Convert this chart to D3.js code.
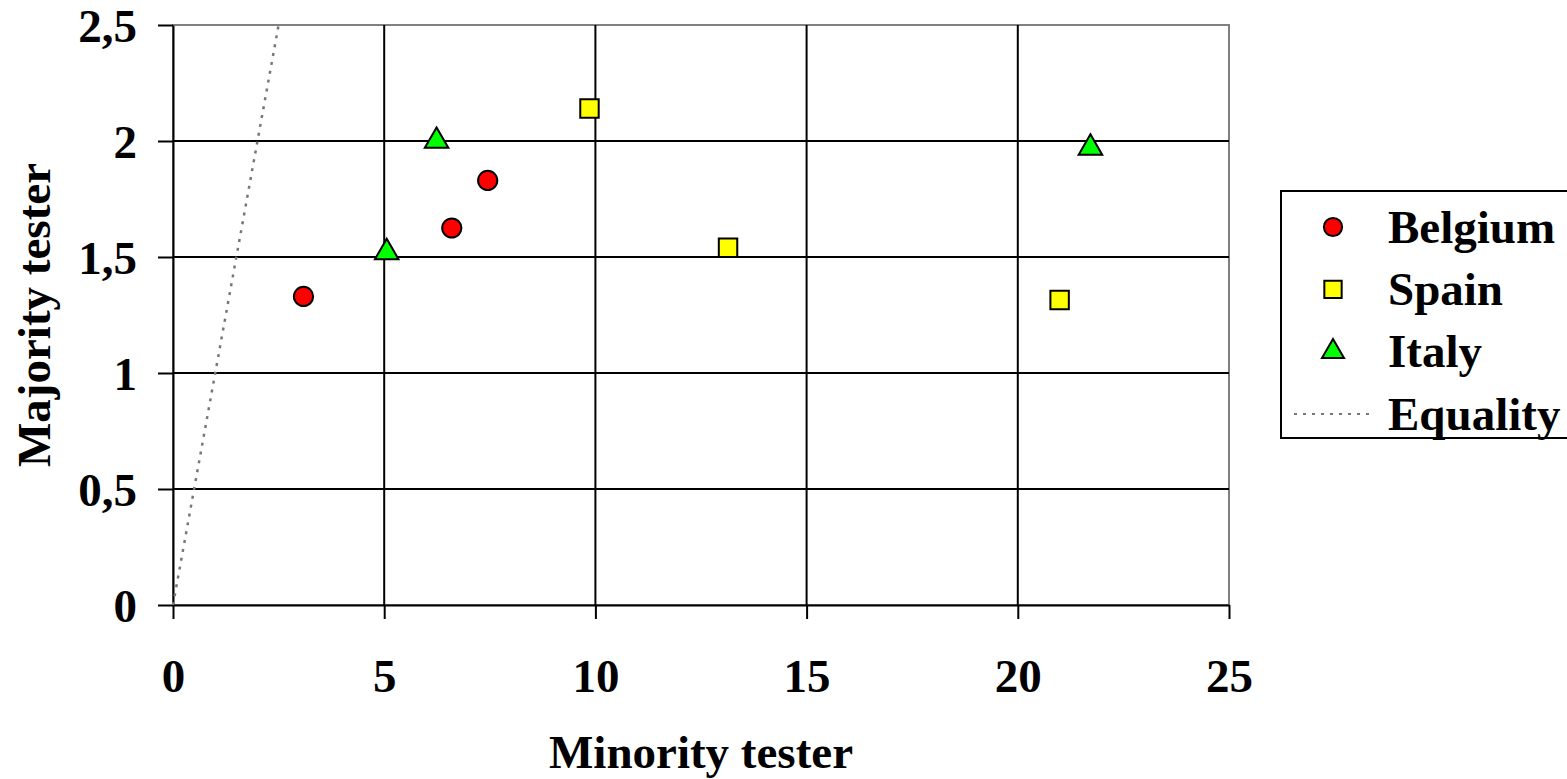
<!DOCTYPE html>
<html>
<head>
<meta charset="utf-8">
<script src="https://cdn.jsdelivr.net/npm/d3@7"></script>
<style>
  html, body { margin: 0; padding: 0; background: #fff; }
  svg text { font-family: "Liberation Serif", "Times New Roman", serif; font-weight: bold; }
</style>
</head>
<body>
<svg id="vis_svg" width="1567" height="779"></svg>
<script>
// data
const belgium = [
  { x: 3.09, y: 1.33 },
  { x: 6.6, y: 1.625 },
  { x: 7.45, y: 1.83 },
];
const spain = [
  { x: 9.86, y: 2.14 },
  { x: 13.14, y: 1.54 },
  { x: 20.99, y: 1.315 },
];
const italy = [
  { x: 5.06, y: 1.52 },
  { x: 6.24, y: 2.0 },
  { x: 21.72, y: 1.97 },
];
const equality = [
  { x: 0, y: 0 },
  { x: 2.5, y: 2.5 },
];
const xTicks = [0, 5, 10, 15, 20, 25];
const yTicks = [0, 0.5, 1, 1.5, 2, 2.5];
const legendNames = ['Belgium', 'Spain', 'Italy', 'Equality'];

const margin = { top: 25, bottom: 174, left: 173, right: 338 };
const fontSize = 47;

const svg = d3.select('#vis_svg');
const width = +svg.attr('width');
const height = +svg.attr('height');

const xScale = d3.scaleLinear().domain([0, 25]).range([margin.left, width - margin.right]);
const yScale = d3.scaleLinear().domain([0, 2.5]).range([height - margin.bottom, margin.top]);

// plot frame (gray top/right)
svg.append('rect')
  .attr('x', xScale(0))
  .attr('y', yScale(2.5))
  .attr('width', xScale(25) - xScale(0))
  .attr('height', yScale(0) - yScale(2.5))
  .attr('fill', 'none')
  .attr('stroke', '#808080')
  .attr('stroke-width', 2);

// gridlines
svg.append('g')
  .selectAll('line')
  .data(yTicks.slice(1, -1))
  .enter()
  .append('line')
  .attr('x1', xScale(0))
  .attr('x2', xScale(25))
  .attr('y1', (d) => yScale(d))
  .attr('y2', (d) => yScale(d))
  .attr('stroke', 'black')
  .attr('stroke-width', 2);

svg.append('g')
  .selectAll('line')
  .data(xTicks.slice(1, -1))
  .enter()
  .append('line')
  .attr('x1', (d) => xScale(d))
  .attr('x2', (d) => xScale(d))
  .attr('y1', yScale(0))
  .attr('y2', yScale(2.5))
  .attr('stroke', 'black')
  .attr('stroke-width', 2);

// axes
const xAxis = svg.append('g')
  .attr('transform', `translate(0,${yScale(0)})`)
  .call(d3.axisBottom(xScale).tickValues(xTicks).tickSize(14).tickPadding(40).tickSizeOuter(0));

const yAxis = svg.append('g')
  .attr('transform', `translate(${xScale(0)},0)`)
  .call(d3.axisLeft(yScale).tickValues(yTicks).tickSize(15).tickPadding(21).tickSizeOuter(0)
    .tickFormat((d) => String(d).replace('.', ',')));

[xAxis, yAxis].forEach((ax) => {
  ax.select('.domain').attr('stroke', 'black').attr('stroke-width', 2);
  ax.selectAll('.tick line').attr('stroke', 'black').attr('stroke-width', 2);
  ax.selectAll('.tick text')
    .attr('fill', 'black')
    .style('font-size', fontSize + 'px')
    .style('font-family', '"Liberation Serif", serif')
    .style('font-weight', 'bold');
});
xAxis.selectAll('.tick text').attr('dy', '0.71em');
yAxis.selectAll('.tick text').attr('dy', '0.36em');

// equality line
const line = d3.line().x((d) => xScale(d.x)).y((d) => yScale(d.y));
svg.append('path')
  .datum(equality)
  .attr('d', line)
  .attr('fill', 'none')
  .attr('stroke', '#777')
  .attr('stroke-width', 2.5)
  .attr('stroke-dasharray', '3,6');

// markers
const circleSym = d3.symbol().type(d3.symbolCircle).size(290);
const squareSym = d3.symbol().type(d3.symbolSquare).size(340);
const triangleSym = d3.symbol().type(d3.symbolTriangle).size(240);

const series = [
  { data: belgium, sym: circleSym, fill: '#ff0000' },
  { data: spain, sym: squareSym, fill: '#ffff00' },
  { data: italy, sym: triangleSym, fill: '#00ff00' },
];

series.forEach((s) => {
  svg.append('g')
    .selectAll('path')
    .data(s.data)
    .enter()
    .append('path')
    .attr('d', s.sym())
    .attr('transform', (d) => `translate(${xScale(d.x)},${yScale(d.y)})`)
    .attr('fill', s.fill)
    .attr('stroke', 'black')
    .attr('stroke-width', 2);
});

// axis titles
svg.append('text')
  .attr('x', (xScale(0) + xScale(25)) / 2)
  .attr('y', 768)
  .attr('text-anchor', 'middle')
  .style('font-size', fontSize + 'px')
  .text('Minority tester');

svg.append('text')
  .attr('transform', `translate(50,${(yScale(0) + yScale(2.5)) / 2}) rotate(-90)`)
  .attr('text-anchor', 'middle')
  .style('font-size', fontSize + 'px')
  .text('Majority tester');

// legend
const legend = svg.append('g').attr('transform', 'translate(1281,191)');
legend.append('rect')
  .attr('width', 300)
  .attr('height', 247)
  .attr('fill', 'white')
  .attr('stroke', 'black')
  .attr('stroke-width', 2);

const legendY = d3.scalePoint().domain(legendNames).range([36, 223]);
const legendSyms = [circleSym, squareSym, triangleSym];
const legendFills = ['#ff0000', '#ffff00', '#00ff00'];

legendNames.slice(0, 3).forEach((name, i) => {
  legend.append('path')
    .attr('d', legendSyms[i].size(i === 0 ? 260 : i === 1 ? 300 : 210)())
    .attr('transform', `translate(52,${legendY(name)})`)
    .attr('fill', legendFills[i])
    .attr('stroke', 'black')
    .attr('stroke-width', 2);
});

legend.append('line')
  .attr('x1', 13)
  .attr('x2', 90)
  .attr('y1', legendY('Equality'))
  .attr('y2', legendY('Equality'))
  .attr('stroke', '#777')
  .attr('stroke-width', 2)
  .attr('stroke-dasharray', '3,6');

legend.selectAll('text.lbl')
  .data(legendNames)
  .enter()
  .append('text')
  .attr('class', 'lbl')
  .attr('x', 107)
  .attr('y', (d) => legendY(d))
  .attr('dy', '0.33em')
  .style('font-size', fontSize + 'px')
  .text((d) => d);
</script>
</body>
</html>
